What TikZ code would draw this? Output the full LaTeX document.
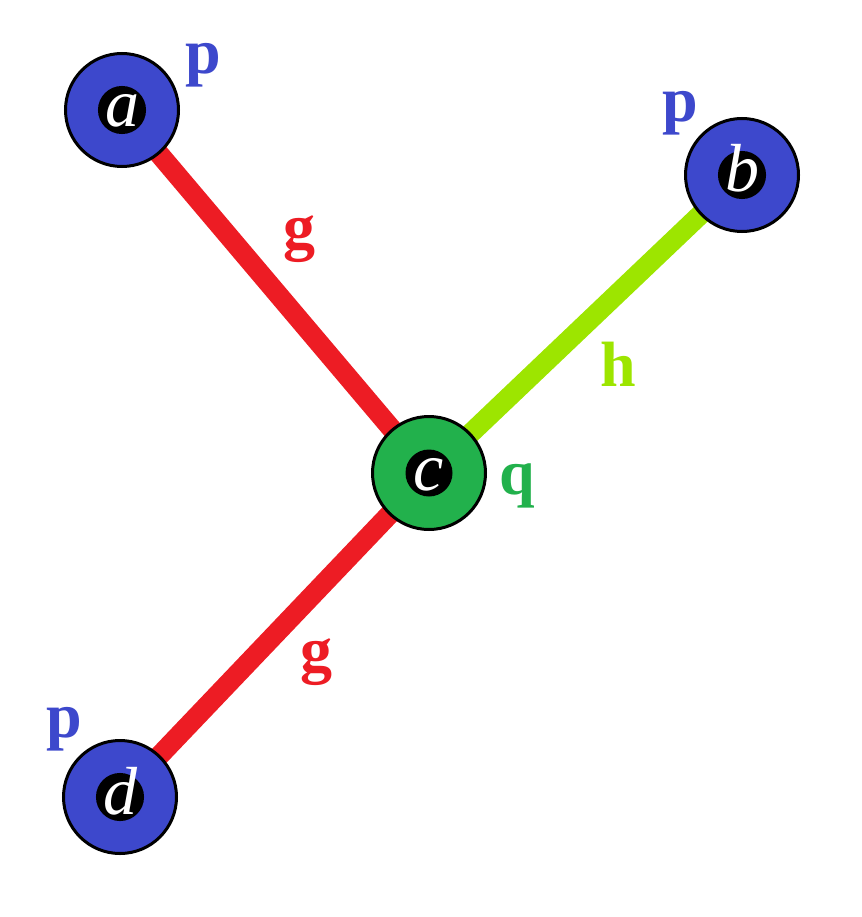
\documentclass[tikz,border=0pt]{standalone}
\usepackage{fontspec}
\setmainfont{Liberation Serif}
\usetikzlibrary{backgrounds}
\definecolor{pblue}{RGB}{61,72,204}
\definecolor{qgreen}{RGB}{34,177,76}
\definecolor{gred}{RGB}{237,28,36}
\definecolor{hlime}{RGB}{157,229,0}

\begin{document}
\begin{tikzpicture}[x=1pt,y=-1pt,
  vert/.style={circle,draw=black,line width=3pt,minimum size=113pt,inner sep=0pt},
  core/.style={circle,fill=black,text=white,minimum size=47pt,inner sep=0pt,
    text height=34pt,text depth=0pt,font=\fontsize{68}{68}\selectfont\itshape},
  lab/.style={anchor=base,inner sep=0pt,font=\fontsize{64}{64}\selectfont\bfseries},
  edge/.style={line width=20pt}]
\useasboundingbox (0,0) rectangle (861,917);
% vertices
\node[vert,fill=pblue] (a) at (122,110) {};
\node[vert,fill=pblue] (b) at (742,175) {};
\node[vert,fill=qgreen] (c) at (429,473) {};
\node[vert,fill=pblue] (d) at (120,797) {};
\node[core] (ka) at (a) {a};
\node[core] (kb) at (b) {b};
\node[core] (kc) at (c) {c};
\node[core] (kd) at (d) {d};
% edges
\begin{scope}[on background layer]
\draw[edge,gred] (a.center) -- (c.center);
\draw[edge,hlime] (b.center) -- (c.center);
\draw[edge,gred] (d.center) -- (c.center);
\end{scope}
% labels
\node[lab,text=pblue] (pa) at (203,74) {p};
\node[lab,text=pblue] (pb) at (680,122) {p};
\node[lab,text=pblue] (pd) at (64,737) {p};
\node[lab,text=qgreen] (qc) at (517,494) {q};
\node[lab,text=gred] (gac) at (299,248) {g};
\node[lab,text=gred] (gdc) at (316,671) {g};
\node[lab,text=hlime] (hbc) at (618,386) {h};
\end{tikzpicture}
\end{document}
